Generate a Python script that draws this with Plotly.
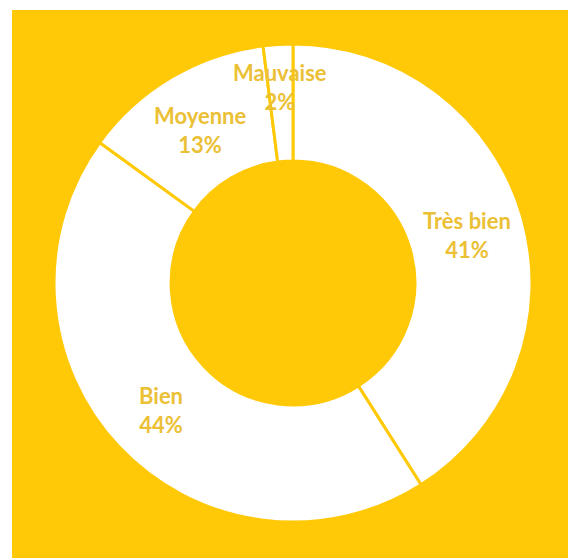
import math
import plotly.graph_objects as go

# Ratings and their share of answers (percent)
categories = ["Très bien", "Bien", "Moyenne", "Mauvaise"]
shares = [41, 44, 13, 2]

W, H = 568, 558
YELLOW = "#FFC907"
LABEL = "#EBC035"

# donut geometry in pixels
cx, cy, R = 293, 283, 239
label_radius = [0.76, 0.76, 0.76, 0.835]

fig = go.Figure(
    go.Pie(
        labels=categories,
        values=shares,
        hole=0.51,
        sort=False,
        direction="clockwise",
        rotation=0,
        textinfo="none",
        hoverinfo="label+percent",
        marker=dict(colors=["#FFFFFF"] * len(categories),
                    line=dict(color=YELLOW, width=3)),
        domain=dict(x=[(cx - R) / W, (cx + R) / W],
                    y=[(H - cy - R) / H, (H - cy + R) / H]),
        showlegend=False,
    )
)

# place each label at its slice's mid-angle
total = sum(shares)
cum = 0
annotations = []
for name, v, rf in zip(categories, shares, label_radius):
    mid = (cum + v / 2) / total * 2 * math.pi
    cum += v
    px = cx + rf * R * math.sin(mid)
    py = cy - rf * R * math.cos(mid) + 3
    annotations.append(dict(
        x=px / W, y=1 - py / H, xref="paper", yref="paper",
        text=f"<b>{name}<br>{v}%</b>", showarrow=False,
        font=dict(family="Lato, Open Sans, sans-serif", size=22, color=LABEL),
        align="center", xanchor="center", yanchor="middle",
    ))

fig.update_layout(
    width=W, height=H,
    margin=dict(l=0, r=0, t=0, b=0),
    paper_bgcolor="#FFFFFF",
    shapes=[dict(type="rect", xref="paper", yref="paper",
                 x0=12 / W, x1=1, y0=0, y1=1 - 10 / H,
                 fillcolor=YELLOW, line=dict(width=0), layer="below")],
    annotations=annotations,
)

fig.write_html("out.html")
